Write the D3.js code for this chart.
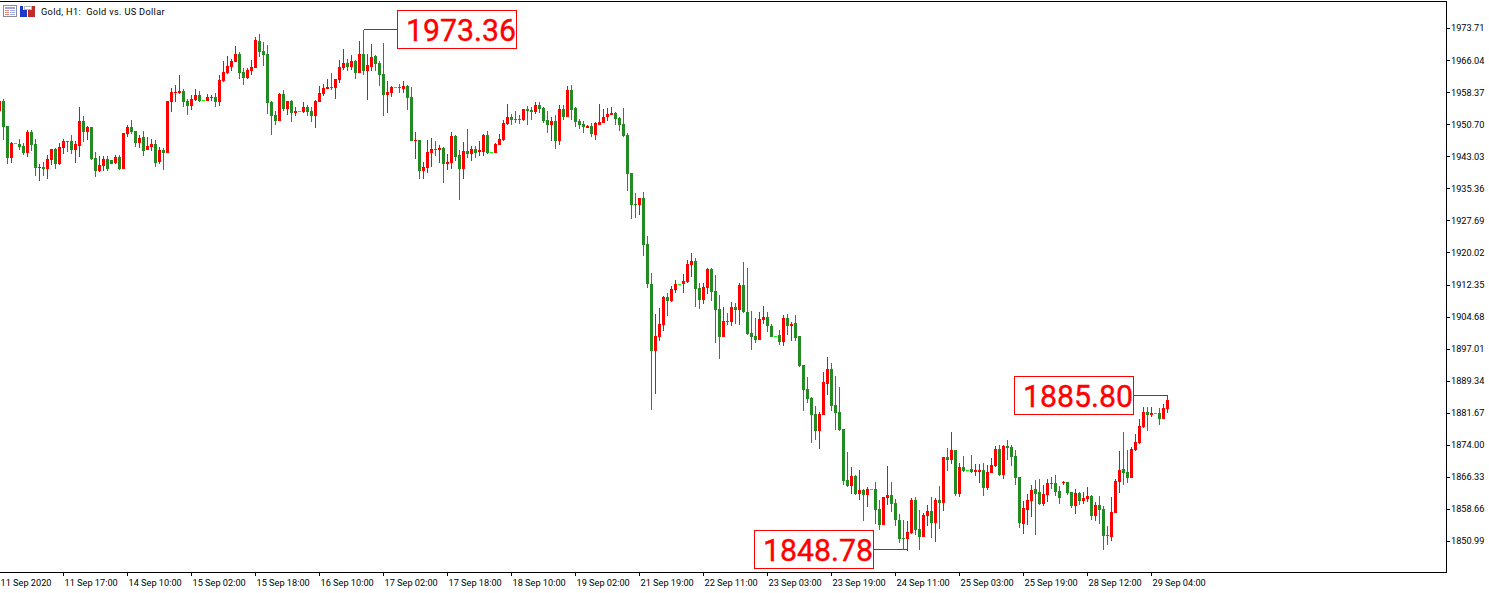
<!DOCTYPE html>
<html>
<head>
<meta charset="utf-8">
<script src="https://cdnjs.cloudflare.com/ajax/libs/d3/7.8.5/d3.min.js"></script>
<style>
  html, body { margin: 0; padding: 0; background: #fff; overflow: hidden; }
  .axis text, .title { font-family: Roboto, sans-serif; font-size: 9.2px; fill: #000; }
  .title { letter-spacing: 0.34px; white-space: pre; }
  .axis line { stroke: #000; shape-rendering: crispEdges; }
  .frame { stroke: #000; shape-rendering: crispEdges; }
  .mark, .icon { shape-rendering: crispEdges; }
</style>
</head>
<body>
<div class="chart"></div>
<script>
// Gold, H1, one entry per hourly bar
const opens = [
1954.0,1956.4,1950.4,1942.7,1946.3,1946.1,1945.6,1943.9,1949.0,1946.1,
1940.3,1940.6,1940.1,1942.3,1944.9,1941.3,1945.1,1946.8,1946.8,1944.7,
1945.6,1951.6,1949.0,1950.1,1942.7,1939.6,1940.8,1942.5,1942.3,1941.5,
1943.0,1940.1,1948.5,1950.1,1949.2,1946.3,1947.8,1944.7,1945.4,1946.1,
1941.8,1944.7,1943.9,1956.1,1958.3,1958.3,1958.8,1956.4,1955.2,1956.6,
1957.8,1956.6,1956.4,1957.1,1957.3,1956.1,1961.2,1963.1,1964.5,1965.7,
1967.6,1963.3,1961.9,1963.5,1964.3,1970.7,1968.3,1967.6,1956.1,1953.0,
1951.6,1958.0,1954.5,1956.4,1953.5,1954.0,1953.7,1954.9,1954.0,1952.8,
1956.1,1958.0,1959.2,1959.7,1959.5,1961.4,1964.3,1965.5,1964.5,1965.9,
1963.1,1967.6,1963.5,1964.5,1967.1,1965.5,1962.8,1957.8,1958.3,1959.7,
1959.7,1959.2,1960.0,1957.3,1946.8,1947.0,1939.6,1940.3,1943.9,1944.9,
1944.7,1945.1,1941.3,1941.5,1948.0,1943.4,1940.1,1944.4,1943.7,1944.9,
1944.2,1944.2,1948.2,1944.2,1943.9,1945.9,1947.0,1950.9,1952.5,1952.1,
1952.1,1951.8,1954.5,1954.2,1953.7,1955.4,1954.7,1951.8,1950.6,1951.6,
1946.8,1954.5,1952.5,1959.0,1954.7,1951.6,1950.9,1949.9,1950.4,1948.2,
1950.6,1951.1,1952.5,1953.0,1953.5,1952.3,1950.9,1948.2,1939.1,1931.7,
1931.5,1933.2,1922.2,1912.6,1896.6,1899.9,1902.8,1909.5,1908.5,1911.2,
1912.6,1912.6,1913.1,1917.1,1918.1,1911.6,1908.8,1911.6,1916.2,1910.9,
1906.6,1899.9,1903.7,1903.5,1907.1,1906.4,1912.4,1905.9,1900.9,1900.2,
1899.2,1904.0,1904.7,1902.5,1900.2,1900.4,1898.7,1904.5,1902.5,1903.2,
1900.2,1893.2,1887.5,1885.3,1881.5,1877.4,1881.3,1888.7,1892.3,1883.6,
1882.0,1877.9,1865.7,1864.3,1866.7,1862.4,1863.3,1862.1,1863.6,1863.6,
1858.8,1855.0,1861.4,1862.1,1860.2,1856.1,1851.9,1851.6,1853.0,1860.9,
1854.0,1852.1,1857.1,1858.3,1855.4,1860.9,1860.2,1871.2,1870.5,1872.9,
1862.4,1868.8,1868.1,1868.3,1867.6,1867.6,1868.1,1863.8,1867.4,1869.1,
1873.1,1866.9,1873.9,1873.6,1871.5,1866.4,1855.2,1858.5,1860.7,1863.6,
1862.8,1860.0,1862.1,1865.0,1865.0,1863.1,1865.0,1865.2,1862.8,1859.5,
1862.6,1860.7,1861.2,1861.9,1857.1,1859.7,1858.8,1852.6,1852.1,1857.8,
1865.2,1868.3,1867.6,1866.2,1872.9,1874.6,1878.4,1882.0,1881.3,1881.7,
1881.7,1880.3,1882.7
];
const highs = [
1956.6,1956.9,1950.4,1946.6,1946.3,1947.3,1946.3,1949.4,1949.4,1947.3,
1941.3,1941.8,1943.4,1944.9,1945.1,1946.3,1947.3,1946.8,1948.2,1946.8,
1954.9,1952.8,1950.4,1950.1,1944.2,1943.2,1943.2,1943.2,1942.3,1943.4,
1943.4,1948.7,1950.6,1951.8,1949.2,1948.2,1949.2,1947.8,1947.3,1947.0,
1945.4,1945.1,1956.4,1959.5,1960.2,1962.6,1959.2,1956.9,1957.8,1959.2,
1958.8,1956.6,1958.0,1957.8,1958.3,1962.6,1965.9,1967.1,1966.4,1969.5,
1968.1,1964.3,1964.3,1966.2,1971.7,1972.4,1970.5,1969.8,1956.4,1954.0,
1958.3,1959.0,1956.4,1956.6,1954.9,1954.0,1956.1,1955.4,1954.9,1956.6,
1960.0,1960.4,1961.6,1963.1,1961.6,1966.2,1968.8,1966.4,1967.4,1966.2,
1970.7,1973.36,1967.6,1970.0,1967.4,1965.9,1970.2,1961.2,1960.0,1959.7,
1960.4,1961.2,1960.2,1959.7,1949.0,1947.0,1941.8,1947.0,1947.5,1946.8,
1945.9,1945.4,1943.7,1949.0,1948.2,1944.7,1946.6,1949.7,1945.6,1945.6,
1946.8,1948.5,1949.2,1944.2,1946.3,1948.5,1951.8,1955.6,1953.3,1954.0,
1953.0,1954.5,1955.2,1954.9,1956.1,1956.1,1954.9,1954.0,1952.5,1953.0,
1955.4,1955.4,1960.0,1960.2,1954.9,1952.1,1951.6,1950.6,1951.1,1951.3,
1955.6,1954.5,1954.7,1954.9,1953.7,1952.5,1954.7,1948.7,1939.1,1934.4,
1933.2,1934.6,1924.1,1915.2,1905.4,1906.9,1909.7,1910.4,1912.1,1913.6,
1912.6,1915.0,1918.3,1920.0,1918.8,1912.8,1912.8,1916.4,1916.4,1914.8,
1910.0,1907.1,1905.7,1908.3,1908.0,1912.8,1917.9,1916.4,1906.1,1904.5,
1905.9,1907.3,1905.9,1903.0,1900.2,1901.6,1905.2,1905.4,1903.5,1905.2,
1900.2,1893.2,1890.4,1885.6,1883.4,1882.0,1891.6,1895.1,1893.7,1890.6,
1887.9,1877.9,1872.4,1868.8,1866.9,1868.1,1863.6,1864.0,1863.6,1865.2,
1860.9,1861.7,1869.1,1865.2,1861.2,1857.6,1856.1,1855.9,1861.4,1861.7,
1858.5,1857.8,1859.7,1861.7,1861.4,1864.3,1871.2,1873.4,1877.2,1872.9,
1869.8,1871.5,1868.1,1871.7,1869.6,1869.6,1869.8,1869.3,1871.0,1873.9,
1874.1,1874.1,1875.3,1874.1,1872.9,1866.4,1860.7,1862.4,1864.5,1865.7,
1866.0,1864.5,1866.0,1866.4,1866.9,1864.3,1865.5,1865.2,1862.8,1863.6,
1862.8,1862.8,1864.0,1862.1,1860.5,1861.9,1859.5,1854.7,1861.7,1866.0,
1872.6,1877.2,1872.9,1873.6,1876.7,1880.3,1883.2,1883.2,1883.2,1881.7,
1882.9,1883.9,1885.80
];
const lows = [
1953.5,1947.0,1941.3,1941.5,1946.3,1944.7,1943.4,1943.0,1944.4,1938.4,
1937.2,1938.4,1937.7,1941.1,1940.1,1941.1,1943.7,1944.2,1943.7,1941.5,
1943.0,1946.6,1947.0,1942.3,1938.2,1939.4,1939.6,1939.6,1941.3,1941.3,
1939.9,1940.1,1947.8,1948.5,1945.4,1945.1,1943.2,1944.7,1944.4,1940.6,
1941.3,1939.9,1943.9,1953.7,1956.1,1958.0,1954.9,1953.0,1954.2,1956.4,
1956.1,1956.6,1956.4,1956.4,1954.9,1955.2,1960.9,1962.8,1963.5,1965.7,
1961.6,1960.2,1961.6,1962.6,1964.3,1966.9,1964.8,1953.3,1948.2,1950.6,
1951.6,1954.0,1953.0,1951.3,1952.8,1954.0,1953.5,1952.8,1951.3,1949.9,
1956.1,1957.6,1959.2,1959.0,1956.9,1960.7,1963.8,1963.5,1963.8,1961.6,
1963.1,1962.6,1956.6,1963.5,1963.5,1960.0,1952.8,1953.5,1957.3,1959.7,
1958.3,1958.3,1954.2,1946.8,1942.5,1937.7,1937.7,1939.1,1940.6,1943.2,
1941.5,1936.8,1939.9,1940.1,1942.0,1932.7,1937.7,1942.7,1942.0,1942.7,
1943.2,1943.2,1943.7,1944.2,1943.9,1945.9,1946.8,1950.6,1950.6,1951.1,
1950.9,1951.6,1950.6,1951.8,1953.3,1953.5,1951.1,1948.7,1946.8,1944.9,
1945.9,1951.8,1952.5,1951.8,1950.1,1949.7,1948.7,1949.9,1947.8,1947.0,
1950.6,1951.1,1951.6,1953.0,1950.6,1949.2,1947.8,1934.8,1928.1,1928.4,
1929.1,1919.3,1911.6,1882.5,1886.3,1899.0,1901.4,1904.9,1908.3,1910.4,
1912.6,1910.4,1912.8,1914.3,1907.1,1906.6,1907.8,1910.2,1908.5,1898.5,
1894.7,1899.9,1902.8,1902.5,1903.0,1902.8,1905.7,1900.4,1896.8,1898.5,
1899.2,1903.0,1901.1,1899.9,1900.2,1898.0,1897.8,1900.4,1899.0,1899.0,
1892.7,1882.2,1884.1,1874.6,1875.3,1873.1,1881.3,1886.0,1882.2,1877.7,
1877.4,1864.5,1864.0,1862.4,1862.1,1860.9,1855.9,1859.2,1863.6,1855.2,
1853.8,1855.0,1859.7,1858.1,1854.7,1850.6,1849.2,1848.78,1852.8,1852.6,
1848.9,1852.1,1854.7,1851.8,1850.9,1854.0,1858.3,1867.9,1869.6,1861.9,
1861.7,1867.6,1868.1,1867.4,1866.7,1865.0,1861.9,1863.3,1867.4,1868.8,
1866.7,1866.0,1870.5,1869.1,1864.5,1854.2,1852.8,1855.0,1856.9,1852.6,
1859.7,1859.5,1860.5,1863.6,1861.9,1860.0,1864.5,1862.1,1859.0,1857.6,
1859.7,1860.0,1860.5,1856.1,1855.9,1855.2,1849.0,1850.2,1851.1,1857.8,
1862.6,1864.5,1865.0,1866.2,1872.6,1874.3,1878.2,1877.4,1880.8,1881.7,
1878.9,1880.3,1881.7
];
const closes = [
1956.4,1950.1,1942.7,1946.3,1946.3,1945.4,1943.9,1949.0,1945.9,1940.3,
1940.6,1940.1,1942.5,1944.9,1941.3,1945.4,1946.8,1946.6,1944.7,1946.1,
1951.6,1949.0,1950.1,1942.5,1939.6,1941.1,1942.5,1940.1,1941.3,1943.0,
1940.1,1948.7,1950.1,1949.0,1946.3,1947.5,1944.4,1945.6,1946.1,1941.5,
1944.7,1943.9,1956.4,1958.5,1958.5,1958.8,1956.1,1955.2,1956.9,1957.8,
1956.4,1956.6,1957.3,1957.3,1956.1,1961.4,1963.3,1964.7,1965.9,1967.6,
1963.1,1961.9,1963.8,1964.5,1971.0,1968.1,1967.4,1955.9,1952.8,1951.6,
1958.0,1954.5,1956.4,1953.5,1954.0,1954.0,1954.9,1953.7,1952.8,1956.4,
1958.3,1959.5,1959.7,1959.5,1961.6,1964.5,1965.5,1964.5,1965.9,1963.1,
1967.6,1963.5,1965.0,1966.9,1965.2,1962.6,1957.8,1958.5,1959.7,1959.7,
1959.5,1960.0,1957.1,1946.8,1947.0,1939.6,1940.6,1944.2,1944.9,1944.7,
1945.1,1941.3,1941.8,1948.0,1943.0,1940.1,1944.4,1943.7,1944.9,1943.9,
1944.7,1948.2,1943.9,1944.2,1946.1,1947.3,1951.1,1952.5,1951.8,1951.8,
1951.8,1954.5,1954.0,1953.7,1955.4,1954.5,1951.6,1950.6,1951.6,1946.8,
1954.5,1952.5,1959.0,1954.2,1951.3,1950.6,1950.1,1950.4,1948.5,1951.1,
1951.3,1952.5,1953.3,1953.5,1952.1,1950.6,1948.0,1938.9,1931.5,1931.5,
1933.2,1921.9,1912.6,1896.6,1900.2,1903.0,1909.5,1908.5,1911.4,1912.6,
1912.6,1913.3,1917.4,1918.1,1911.4,1908.8,1911.9,1916.2,1910.7,1906.4,
1899.9,1903.7,1903.5,1907.1,1906.4,1912.4,1905.9,1900.6,1899.9,1899.2,
1904.2,1904.7,1902.5,1899.9,1900.2,1898.7,1904.5,1902.5,1903.0,1899.7,
1893.0,1887.2,1885.1,1881.3,1877.4,1881.5,1889.2,1892.3,1883.4,1881.7,
1877.7,1865.5,1864.3,1866.7,1862.4,1863.3,1862.1,1863.6,1863.6,1858.5,
1855.0,1861.7,1862.1,1860.0,1856.1,1851.6,1851.6,1853.3,1860.9,1853.8,
1852.1,1857.3,1858.3,1855.4,1860.9,1860.2,1871.2,1870.5,1872.9,1862.4,
1868.8,1867.9,1868.1,1867.6,1868.1,1868.1,1863.8,1867.6,1869.3,1873.1,
1866.9,1873.9,1873.4,1871.2,1866.2,1855.4,1859.0,1860.9,1863.3,1862.4,
1860.0,1862.4,1865.0,1864.8,1862.8,1861.4,1865.2,1862.6,1859.5,1862.6,
1860.7,1861.4,1861.9,1857.1,1859.7,1858.5,1852.3,1852.3,1858.1,1865.5,
1868.1,1867.4,1866.2,1873.1,1874.8,1878.6,1882.0,1881.3,1881.7,1881.7,
1880.3,1882.9,1884.9
];

// axis labels
const priceTicks = [1973.71,1966.04,1958.37,1950.70,1943.03,1935.36,1927.69,1920.02,1912.35,1904.68,1897.01,1889.34,1881.67,1874.00,1866.33,1858.66,1850.99];
const timeLabels = ["11 Sep 2020","11 Sep 17:00","14 Sep 10:00","15 Sep 02:00","15 Sep 18:00","16 Sep 10:00","17 Sep 02:00","17 Sep 18:00","18 Sep 10:00","19 Sep 02:00","21 Sep 19:00","22 Sep 11:00","23 Sep 03:00","23 Sep 19:00","24 Sep 11:00","25 Sep 03:00","25 Sep 19:00","28 Sep 12:00","29 Sep 04:00"];
const barsPerLabel = 16;

// the three price labels: value, bar it belongs to
const callouts = [
  { text: "1973.36", bar: 91, price: 1973.36, box: [397, 10, 120, 39] },
  { text: "1848.78", bar: 227, price: 1848.78, box: [754, 530, 120, 39] },
  { text: "1885.80", bar: 292, price: 1885.80, box: [1014, 376, 120, 39] }
];

const width = 1489;
const height = 593;
const plotRight = 1446;
const plotBottom = 572;

const svg = d3.select(".chart")
  .append("svg")
  .attr("width", width)
  .attr("height", height)
  .style("display", "block");

const x = d3.scaleLinear().domain([0, closes.length - 1]).range([-1, 1167]);
const y = d3.scaleLinear().domain([1973.71, 1850.99]).range([28, 541]);

// pixel row for a price
const row = p => Math.round(y(p) + 0.5);

// frame
svg.append("line").attr("class", "frame").attr("x1", 0).attr("x2", plotRight).attr("y1", 1.5).attr("y2", 1.5);
svg.append("line").attr("class", "frame").attr("x1", plotRight + 0.5).attr("x2", plotRight + 0.5).attr("y1", 1).attr("y2", plotBottom + 1);
svg.append("line").attr("class", "frame").attr("x1", 0).attr("x2", plotRight).attr("y1", plotBottom + 0.5).attr("y2", plotBottom + 0.5);

// right axis
const yAxis = svg.append("g")
  .attr("class", "axis")
  .attr("transform", `translate(${plotRight}, 0)`)
  .call(d3.axisRight(y).tickValues(priceTicks).tickFormat(d3.format(".2f")).tickSize(4).tickPadding(1));
yAxis.select(".domain").remove();

// bottom axis
const xAxis = svg.append("g")
  .attr("class", "axis")
  .attr("transform", `translate(0, ${plotBottom})`)
  .call(d3.axisBottom(x)
    .tickValues(timeLabels.map((d, i) => i * barsPerLabel))
    .tickFormat((d, i) => timeLabels[i])
    .tickSize(4)
    .tickPadding(3));
xAxis.select(".domain").remove();
xAxis.selectAll("text").attr("text-anchor", "start").attr("dx", 1);
xAxis.select(".tick line").remove();

// candles
const color = i => closes[i] > opens[i] ? "#ff0000" : closes[i] < opens[i] ? "#228b22" : "#00ff00";
const bars = svg.append("g").selectAll("g").data(d3.range(closes.length)).join("g").attr("class", "mark");

bars.append("rect")
  .attr("x", i => Math.round(x(i)))
  .attr("width", 1)
  .attr("y", i => row(highs[i]))
  .attr("height", i => row(lows[i]) - row(highs[i]))
  .attr("fill", color);

bars.append("rect")
  .attr("x", i => Math.round(x(i)) - 1)
  .attr("width", 3)
  .attr("y", i => row(Math.max(opens[i], closes[i])))
  .attr("height", i => Math.max(1, row(Math.min(opens[i], closes[i])) - row(Math.max(opens[i], closes[i]))))
  .attr("fill", color);

// callouts
const labels = svg.append("g").selectAll("g").data(callouts).join("g");

labels.append("path")
  .attr("class", "mark")
  .attr("fill", "none")
  .attr("stroke", "#ff0000")
  .attr("d", d => {
    const cx = Math.round(x(d.bar)) + 0.5;
    const ly = Math.floor(y(d.price) - 0.4) + 0.5;
    const edge = d.box[0] > cx ? d.box[0] : d.box[0] + d.box[2];
    return `M${cx},${ly}H${edge}`;
  });

labels.append("rect")
  .attr("class", "mark")
  .attr("x", d => d.box[0] + 0.5)
  .attr("y", d => d.box[1] + 0.5)
  .attr("width", d => d.box[2] - 1)
  .attr("height", d => d.box[3] - 1)
  .attr("fill", "#fff")
  .attr("stroke", "#ff0000");

labels.append("text")
  .attr("x", d => d.box[0] + 9)
  .attr("y", d => d.box[1] + 31)
  .attr("textLength", 110)
  .attr("lengthAdjust", "spacingAndGlyphs")
  .attr("font-family", "Roboto, sans-serif")
  .attr("font-size", 32)
  .attr("fill", "#ff0000")
  .attr("stroke", "#ff0000")
  .attr("stroke-width", 0.4)
  .text(d => d.text);

// title
svg.append("text").attr("class", "title").attr("x", 41).attr("y", 15).text("Gold, H1:  Gold vs. US Dollar");

// toolbar icons left of the title
const icons = svg.append("g").attr("class", "icon");
icons.append("rect").attr("x", 3.5).attr("y", 5.5).attr("width", 13).attr("height", 11).attr("fill", "#fff").attr("stroke", "#8a8a9a");
icons.append("rect").attr("x", 5).attr("y", 7).attr("width", 10).attr("height", 2).attr("fill", "#9aa6e0");
[10, 12, 14].forEach(r => {
  icons.append("rect").attr("x", 5).attr("y", r).attr("width", 4).attr("height", 1).attr("fill", "#e08a7a");
  icons.append("rect").attr("x", 10).attr("y", r).attr("width", 5).attr("height", 1).attr("fill", "#a0aef0");
});
icons.append("path").attr("d", "M20,6h3v4h4v7h-7z").attr("fill", "#2038c8");
icons.append("path").attr("d", "M35,6v11h-7v-7h4v-4z").attr("fill", "#c02c2c");
icons.append("rect").attr("x", 24).attr("y", 6).attr("width", 7).attr("height", 3).attr("fill", "#fff").attr("stroke", "#888").attr("stroke-width", 0.6);
</script>
</body>
</html>
